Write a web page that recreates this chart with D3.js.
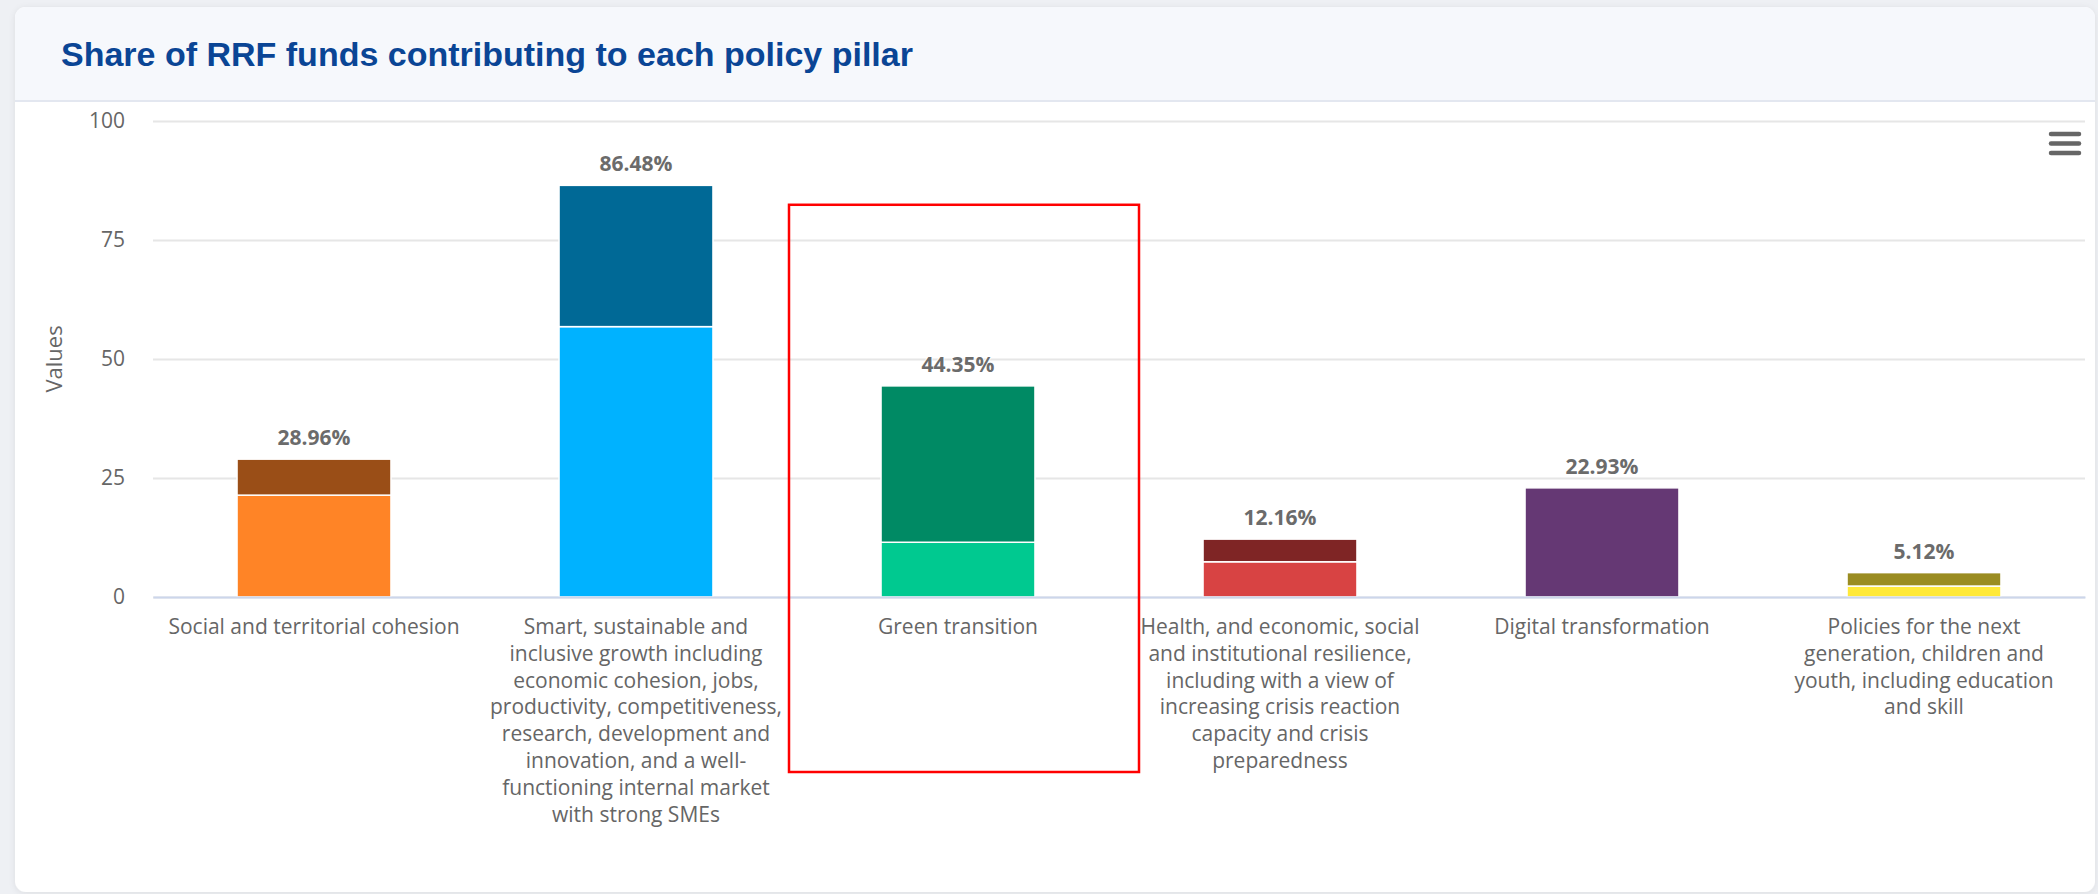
<!DOCTYPE html>
<html>
<head>
<meta charset="utf-8">
<script src="https://cdn.jsdelivr.net/npm/d3@7"></script>
<style>
  body { margin: 0; background: #eef0f4; }
  svg { display: block; }
</style>
</head>
<body>
<svg width="2098" height="894"></svg>
<script>
const categories = [
    'Social and territorial cohesion',
    'Smart, sustainable and inclusive growth',
    'Green transition',
    'Health, and economic, social and institutional resilience',
    'Digital transformation',
    'Policies for the next generation'
];

// tick labels, wrapped the way the original wraps them
const labelLines = [
    ['Social and territorial cohesion'],
    ['Smart, sustainable and', 'inclusive growth including', 'economic cohesion, jobs,', 'productivity, competitiveness,',
     'research, development and', 'innovation, and a well-', 'functioning internal market', 'with strong SMEs'],
    ['Green transition'],
    ['Health, and economic, social', 'and institutional resilience,', 'including with a view of',
     'increasing crisis reaction', 'capacity and crisis', 'preparedness'],
    ['Digital transformation'],
    ['Policies for the next', 'generation, children and', 'youth, including education', 'and skill']
];

const totals = [28.96, 86.48, 44.35, 12.16, 22.93, 5.12];
const lowerValues = [21.4, 56.8, 11.5, 7.4, 22.93, 2.3];
const yTicks = [0, 25, 50, 75, 100];

const lowerColors = ['#ff8426', '#00b2ff', '#00c990', '#d84343', '#653874', '#ffe93a'];
const upperColors = ['#9a4e17', '#006996', '#008a64', '#7f2525', '#653874', '#9a8c22'];

const highlighted = 'Green transition';

const svg = d3.select('svg'),
    width = +svg.attr('width'),
    height = +svg.attr('height');

const rows = categories.map((c, i) => ({
    cat: c,
    lower: lowerValues[i],
    upper: totals[i] - lowerValues[i],
    total: totals[i],
    i: i
}));

// card
const defs = svg.append('defs');
const shadow = defs.append('filter').attr('id', 'shadow')
    .attr('x', '-5%').attr('y', '-5%').attr('width', '110%').attr('height', '110%');
shadow.append('feDropShadow')
    .attr('dx', 0).attr('dy', 1).attr('stdDeviation', 3)
    .attr('flood-color', '#000').attr('flood-opacity', 0.08);

svg.append('rect')
    .attr('x', 15).attr('y', 7)
    .attr('width', 2080).attr('height', 885)
    .attr('rx', 11)
    .attr('fill', '#fff')
    .attr('filter', 'url(#shadow)');

svg.append('path')
    .attr('d', 'M15,100 V18 A11,11 0 0 1 26,7 H2084 A11,11 0 0 1 2095,18 V100 Z')
    .attr('fill', '#f6f8fc');

svg.append('line')
    .attr('x1', 15).attr('x2', 2095)
    .attr('y1', 101).attr('y2', 101)
    .attr('stroke', '#e3e7f0')
    .attr('stroke-width', 2);

svg.append('text')
    .attr('x', 61)
    .attr('y', 66)
    .attr('font-family', 'Liberation Sans, Arial, sans-serif')
    .attr('font-weight', 'bold')
    .attr('font-size', 34)
    .attr('fill', '#0a4595')
    .text('Share of RRF funds contributing to each policy pillar');

// scales
const x = d3.scaleBand()
    .domain(categories)
    .range([153, 2085])
    .padding(0);

const barWidth = x.bandwidth() * 0.478;

const y = d3.scaleLinear()
    .domain([0, 100])
    .range([597, 121]);

const font = 'Open Sans, sans-serif';

// gridlines + y labels
const yAxis = svg.append('g')
    .attr('class', 'y-axis')
    .attr('transform', 'translate(153,0)')
    .call(d3.axisLeft(y).tickValues(yTicks).tickSize(-(2085 - 153)).tickPadding(28));

yAxis.select('.domain').remove();
yAxis.selectAll('.tick line')
    .attr('stroke', '#e6e6e6')
    .attr('stroke-width', 2);
yAxis.selectAll('.tick text')
    .attr('font-family', font)
    .attr('font-size', 21)
    .attr('fill', '#666');

svg.append('text')
    .attr('transform', `translate(62,${(y(0) + y(100)) / 2}) rotate(-90)`)
    .attr('text-anchor', 'middle')
    .attr('font-family', font)
    .attr('font-size', 22)
    .attr('fill', '#666')
    .text('Values');

// stacked bars
const stack = d3.stack().keys(['lower', 'upper']);
const series = stack(rows);

const bars = svg.append('g').attr('class', 'bars');

series.forEach((s, k) => {
    bars.append('g')
        .selectAll('rect')
        .data(s.filter(d => d[1] - d[0] > 0))
        .enter()
        .append('rect')
        .attr('x', d => x(d.data.cat) + (x.bandwidth() - barWidth) / 2)
        .attr('y', d => y(d[1]))
        .attr('width', barWidth)
        .attr('height', d => y(d[0]) - y(d[1]))
        .attr('fill', d => k === 0 ? lowerColors[d.data.i] : upperColors[d.data.i])
        .attr('stroke', '#fff')
        .attr('stroke-width', 1.5);
});

// x axis line and labels
const xAxis = svg.append('g')
    .attr('class', 'x-axis')
    .attr('transform', `translate(0,${y(0)})`)
    .call(d3.axisBottom(x).tickSize(0).tickFormat(''));

xAxis.select('.domain')
    .attr('stroke', '#ccd6eb')
    .attr('stroke-width', 2);

const xLabels = svg.append('g')
    .selectAll('text')
    .data(rows)
    .enter()
    .append('text')
    .attr('text-anchor', 'middle')
    .attr('font-family', font)
    .attr('font-size', 21)
    .attr('fill', '#666')
    .attr('y', y(0) + 37);

xLabels.selectAll('tspan')
    .data(d => labelLines[d.i].map(l => ({ line: l, cat: d.cat })))
    .enter()
    .append('tspan')
    .attr('x', d => x(d.cat) + x.bandwidth() / 2)
    .attr('dy', (d, j) => j === 0 ? 0 : 26.8)
    .text(d => d.line);

// data labels
svg.append('g')
    .selectAll('text')
    .data(rows)
    .enter()
    .append('text')
    .attr('x', d => x(d.cat) + x.bandwidth() / 2)
    .attr('y', d => y(d.total) - 14)
    .attr('text-anchor', 'middle')
    .attr('font-family', font)
    .attr('font-weight', 'bold')
    .attr('font-size', 21)
    .attr('fill', '#6b6b6b')
    .attr('stroke', '#fff')
    .attr('stroke-width', 2)
    .attr('paint-order', 'stroke')
    .text(d => d.total.toFixed(2) + '%');

// highlight box round one pillar
svg.append('rect')
    .attr('x', x(highlighted) - 8)
    .attr('y', y(82.4))
    .attr('width', x.bandwidth() + 28)
    .attr('height', y(0) + 175 - y(82.4))
    .attr('fill', 'none')
    .attr('stroke', '#ff0000')
    .attr('stroke-width', 2.5);

// menu icon
svg.append('g')
    .selectAll('line')
    .data([134, 143.5, 153])
    .enter()
    .append('line')
    .attr('x1', 2051).attr('x2', 2079)
    .attr('y1', d => d).attr('y2', d => d)
    .attr('stroke', '#666')
    .attr('stroke-width', 4.5)
    .attr('stroke-linecap', 'round');
</script>
</body>
</html>
